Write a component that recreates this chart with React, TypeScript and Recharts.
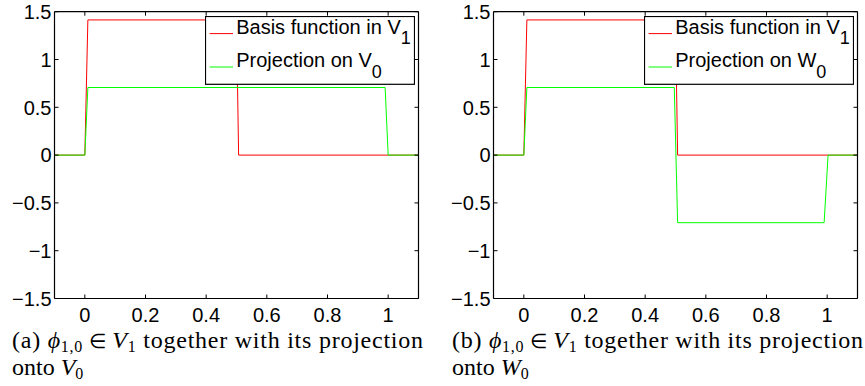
import { LineChart, Line, XAxis, YAxis, Legend } from "recharts";

// axis ticks (same for both panels)
const xTicks = [0, 0.2, 0.4, 0.6, 0.8, 1];
const yTicks = [-1.5, -1, -0.5, 0, 0.5, 1, 1.5];

// phi_{1,0} in V1 (red, both panels)
const basisX = [-0.1, 0, 0.01, 0.5, 0.507, 1.1];
const basisY = [0, 0, 1.414, 1.414, 0, 0];

// projection onto V0 (green, panel a)
const projVX = [-0.1, 0, 0.01, 0.99, 1.0, 1.1];
const projVY = [0, 0, 0.707, 0.707, 0, 0];

// projection onto W0 (green, panel b)
const projWX = [-0.1, 0, 0.01, 0.496, 0.507, 0.99, 1.003, 1.1];
const projWY = [0, 0, 0.707, 0.707, -0.707, -0.707, 0, 0];

const toPoints = (xs: number[], ys: number[]) => xs.map((x, i) => ({ x, y: ys[i] }));

const SANS = "'Liberation Sans', Arial, Helvetica, sans-serif";
const SERIF = "'Liberation Serif', 'Times New Roman', serif";
const TICK = 4;

const fmt = (v: number) => (v < 0 ? "\u2212" + Math.abs(v) : String(v));

function BottomTick({ x, y, payload }: any) {
  return (
    <g>
      <line x1={x} x2={x} y1={y} y2={y - TICK} stroke="#000" />
      <text x={x} y={y + 23} textAnchor="middle" fontFamily={SANS} fontSize={20} fill="#000">
        {fmt(payload.value)}
      </text>
    </g>
  );
}

function TopTick({ x, y }: any) {
  return <line x1={x} x2={x} y1={y} y2={y + TICK} stroke="#000" />;
}

function LeftTick({ x, y, payload }: any) {
  return (
    <g>
      <line x1={x} x2={x + TICK} y1={y} y2={y} stroke="#000" />
      <text x={x - 3} y={y + 7.2} textAnchor="end" fontFamily={SANS} fontSize={20} fill="#000">
        {fmt(payload.value)}
      </text>
    </g>
  );
}

function RightTick({ x, y }: any) {
  return <line x1={x} x2={x - TICK} y1={y} y2={y} stroke="#000" />;
}

// MATLAB style boxed legend, names use "_" to mark the subscript
function BoxLegend({ payload }: any) {
  const rows = [17.6, 51];
  return (
    <svg width={210} height={69} style={{ display: "block" }}>
      <rect x={0.5} y={0.5} width={209} height={67.8} fill="#fff" stroke="#000" strokeWidth={1.2} />
      {(payload || []).map((p: any, i: number) => {
        const [main, sub] = String(p.value).split("_");
        const by = rows[i];
        return (
          <g key={i}>
            <line x1={4.6} x2={28} y1={by} y2={by} stroke={p.color} strokeWidth={1} />
            <text x={31.2} y={by} fontFamily={SANS} fontSize={20} fill="#000">
              {main}
              <tspan fontSize={18} dy={10.5}>{sub}</tspan>
            </text>
          </g>
        );
      })}
    </svg>
  );
}

function Panel({ left, proj, projName }: { left: number; proj: { x: number; y: number }[]; projName: string }) {
  return (
    <div style={{ position: "absolute", left, top: 0 }}>
      <LineChart width={440} height={330} margin={{ top: 10.7, right: 20.5, left: 0.5, bottom: 0 }}>
        <XAxis
          xAxisId="b"
          dataKey="x"
          type="number"
          domain={[-0.1, 1.1]}
          ticks={xTicks}
          interval={0}
          allowDataOverflow
          height={31.5}
          tickSize={0}
          tickMargin={0}
          tickLine={false}
          axisLine={{ stroke: "#000", strokeWidth: 1.2 }}
          tick={<BottomTick />}
        />
        <XAxis
          xAxisId="t"
          orientation="top"
          dataKey="x"
          type="number"
          domain={[-0.1, 1.1]}
          ticks={xTicks}
          interval={0}
          allowDataOverflow
          height={1}
          tickSize={0}
          tickMargin={0}
          tickLine={false}
          axisLine={{ stroke: "#000", strokeWidth: 1.2 }}
          tick={<TopTick />}
        />
        <YAxis
          yAxisId="l"
          type="number"
          domain={[-1.5, 1.5]}
          ticks={yTicks}
          interval={0}
          allowDataOverflow
          width={54}
          tickSize={0}
          tickMargin={0}
          tickLine={false}
          axisLine={{ stroke: "#000", strokeWidth: 1.2 }}
          tick={<LeftTick />}
        />
        <YAxis
          yAxisId="r"
          orientation="right"
          type="number"
          domain={[-1.5, 1.5]}
          ticks={yTicks}
          interval={0}
          allowDataOverflow
          width={1}
          tickSize={0}
          tickMargin={0}
          tickLine={false}
          axisLine={{ stroke: "#000", strokeWidth: 1.2 }}
          tick={<RightTick />}
        />
        <Line
          xAxisId="b"
          yAxisId="l"
          data={toPoints(basisX, basisY)}
          dataKey="y"
          name="Basis function in V_1"
          type="linear"
          stroke="#ff0000"
          strokeWidth={1}
          dot={false}
          activeDot={false}
          isAnimationActive={false}
        />
        <Line
          xAxisId="b"
          yAxisId="l"
          data={proj}
          dataKey="y"
          name={projName}
          type="linear"
          stroke="#00ff00"
          strokeWidth={1}
          dot={false}
          activeDot={false}
          isAnimationActive={false}
        />
        <Legend
          layout="horizontal"
          verticalAlign="middle"
          align="center"
          content={<BoxLegend />}
          wrapperStyle={{ position: "absolute", left: 204.5, top: 15.7, width: 210, height: 69, margin: 0 }}
        />
      </LineChart>
    </div>
  );
}

function Caption({ x, tag, space }: { x: number; tag: string; space: string }) {
  return (
    <g fontFamily={SERIF} fill="#000">
      <text x={x} y={348} fontSize={24} textLength={411} lengthAdjust="spacing">
        {`(${tag}) `}
        <tspan fontStyle="italic">{"\u03d5"}</tspan>
        <tspan fontSize={16} dy={4}>{"1,0"}</tspan>
        <tspan dy={-4} fontSize={20}>{" \u2208 "}</tspan>
        <tspan fontStyle="italic">V</tspan>
        <tspan fontSize={16} dy={4}>1</tspan>
        <tspan dy={-4}>{" together with its projection"}</tspan>
      </text>
      <text x={x} y={375} fontSize={24}>
        {"onto "}
        <tspan fontStyle="italic">{space}</tspan>
        <tspan fontSize={16} dy={4}>0</tspan>
      </text>
    </g>
  );
}

export default function App() {
  return (
    <div style={{ position: "absolute", left: 0, top: 0, width: 865, height: 386, background: "#fff", overflow: "hidden" }}>
      <Panel left={0} proj={toPoints(projVX, projVY)} projName="Projection on V_0" />
      <Panel left={439} proj={toPoints(projWX, projWY)} projName="Projection on W_0" />
      <svg width={865} height={386} style={{ position: "absolute", left: 0, top: 0, pointerEvents: "none" }}>
        <Caption x={12} tag="a" space="V" />
        <Caption x={452} tag="b" space="W" />
      </svg>
    </div>
  );
}
